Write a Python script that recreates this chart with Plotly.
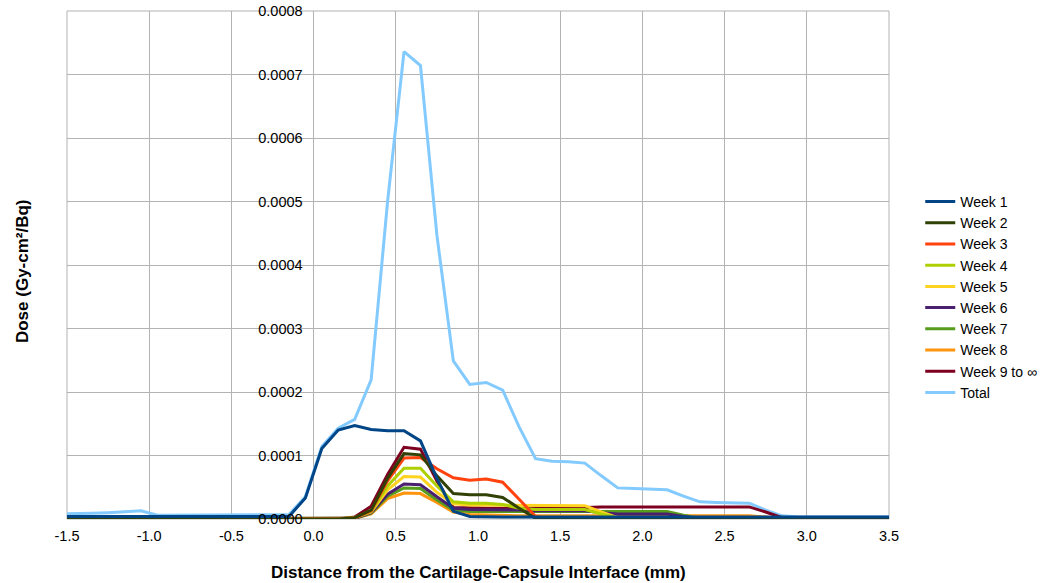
import plotly.graph_objects as go

# Distance from the cartilage-capsule interface (mm), bin centres
distance_mm = [-1.55, -1.45, -1.35, -1.25, -1.15, -1.05, -0.95, -0.85, -0.75, -0.65,
               -0.55, -0.45, -0.35, -0.25, -0.15, -0.05, 0.05, 0.15, 0.25, 0.35,
               0.45, 0.55, 0.65, 0.75, 0.85, 0.95, 1.05, 1.15, 1.25, 1.35,
               1.45, 1.55, 1.65, 1.75, 1.85, 1.95, 2.05, 2.15, 2.25, 2.35,
               2.45, 2.55, 2.65, 2.75, 2.85, 2.95, 3.05, 3.15, 3.25, 3.35,
               3.45, 3.55]

# Dose per series (Gy-cm^2/Bq)
week_1 = [4e-6, 4e-6, 4e-6, 4e-6, 4e-6, 4e-6, 4e-6, 4e-6, 4e-6, 4e-6,
          4e-6, 4e-6, 4e-6, 4e-6, 4e-6, 33e-6, 111e-6, 140e-6, 147e-6, 141e-6,
          139e-6, 139e-6, 123e-6, 64e-6, 12e-6, 4e-6, 3e-6, 3e-6, 3e-6, 3e-6,
          3e-6, 3e-6, 3e-6, 3e-6, 3e-6, 3e-6, 3e-6, 3e-6, 3e-6, 3e-6,
          3e-6, 3e-6, 3e-6, 3e-6, 3e-6, 3e-6, 3e-6, 3e-6, 3e-6, 3e-6,
          3e-6, 3e-6]
week_2 = [0, 0, 0, 0, 0, 0, 0, 0, 0, 0,
          0, 0, 0, 0, 0, 0, 0, 0, 2e-6, 14e-6,
          64e-6, 103e-6, 101e-6, 68e-6, 40e-6, 38e-6, 38e-6, 34e-6, 17e-6, 1e-6,
          0, 0, 0, 0, 0, 0, 0, 0, 0, 0,
          0, 0, 0, 0, 0, 0, 0, 0, 0, 0,
          0, 0]
week_3 = [0, 0, 0, 0, 0, 0, 0, 0, 0, 0,
          0, 0, 0, 0, 0, 0, 0, 0, 2e-6, 13e-6,
          60e-6, 96e-6, 97e-6, 79e-6, 65e-6, 61e-6, 63e-6, 58e-6, 31e-6, 4e-6,
          0, 0, 0, 0, 0, 0, 0, 0, 0, 0,
          0, 0, 0, 0, 0, 0, 0, 0, 0, 0,
          0, 0]
week_4 = [0, 0, 0, 0, 0, 0, 0, 0, 0, 0,
          0, 0, 0, 0, 0, 0, 0, 0, 2e-6, 12e-6,
          52e-6, 80e-6, 80e-6, 52e-6, 27e-6, 25e-6, 25e-6, 23e-6, 17e-6, 15e-6,
          15e-6, 15e-6, 15e-6, 8e-6, 2e-6, 0, 0, 0, 0, 0,
          0, 0, 0, 0, 0, 0, 0, 0, 0, 0,
          0, 0]
week_5 = [0, 0, 0, 0, 0, 0, 0, 0, 0, 0,
          0, 0, 0, 0, 0, 0, 0, 0, 2e-6, 11e-6,
          46e-6, 67e-6, 66e-6, 42e-6, 24e-6, 22e-6, 22e-6, 22e-6, 21e-6, 21e-6,
          21e-6, 21e-6, 21e-6, 11e-6, 2e-6, 0, 0, 0, 0, 0,
          0, 0, 0, 0, 0, 0, 0, 0, 0, 0,
          0, 0]
week_6 = [0, 0, 0, 0, 0, 0, 0, 0, 0, 0,
          0, 0, 0, 0, 0, 0, 0, 0, 1e-6, 10e-6,
          39e-6, 55e-6, 54e-6, 35e-6, 17e-6, 15e-6, 15e-6, 15e-6, 14e-6, 13e-6,
          13e-6, 13e-6, 13e-6, 10e-6, 8e-6, 8e-6, 8e-6, 8e-6, 4e-6, 1e-6,
          0, 0, 0, 0, 0, 0, 0, 0, 0, 0,
          0, 0]
week_7 = [0, 0, 0, 0, 0, 0, 0, 0, 0, 0,
          0, 0, 0, 0, 0, 0, 0, 0, 1e-6, 9e-6,
          36e-6, 49e-6, 48e-6, 30e-6, 14e-6, 12e-6, 12e-6, 12e-6, 12e-6, 12e-6,
          12e-6, 12e-6, 12e-6, 12e-6, 12e-6, 12e-6, 12e-6, 12e-6, 6e-6, 1e-6,
          0, 0, 0, 0, 0, 0, 0, 0, 0, 0,
          0, 0]
week_8 = [0, 0, 0, 0, 0, 0, 0, 0, 0, 0,
          0, 0, 0, 0, 0, 0, 0, 0, 1e-6, 8e-6,
          32e-6, 41e-6, 40e-6, 26e-6, 11e-6, 7e-6, 6e-6, 6e-6, 5e-6, 5e-6,
          5e-6, 5e-6, 5e-6, 5e-6, 5e-6, 5e-6, 5e-6, 5e-6, 5e-6, 5e-6,
          5e-6, 5e-6, 5e-6, 3e-6, 0, 0, 0, 0, 0, 0,
          0, 0]
week_9 = [0, 0, 0, 0, 0, 0, 0, 0, 0, 0,
          0, 0, 0, 0, 0, 0, 0, 0, 3e-6, 20e-6,
          70e-6, 113e-6, 110e-6, 60e-6, 18e-6, 17e-6, 17e-6, 17e-6, 17e-6, 17e-6,
          17e-6, 18e-6, 18e-6, 19e-6, 19e-6, 19e-6, 19e-6, 19e-6, 19e-6, 19e-6,
          19e-6, 19e-6, 19e-6, 11e-6, 2e-6, 0, 0, 0, 0, 0,
          0, 0]
total = [8e-6, 8e-6, 9e-6, 10e-6, 11e-6, 13e-6, 6e-6, 6e-6, 6e-6, 6e-6,
         6e-6, 6e-6, 6e-6, 6e-6, 7e-6, 35e-6, 114e-6, 143e-6, 157e-6, 219e-6,
         500e-6, 736e-6, 714e-6, 447e-6, 249e-6, 212e-6, 215e-6, 203e-6, 145e-6, 95e-6,
         91e-6, 90e-6, 88e-6, 68e-6, 49e-6, 48e-6, 47e-6, 46e-6, 36e-6, 27e-6,
         26e-6, 26e-6, 25e-6, 14e-6, 5e-6, 3e-6, 3e-6, 3e-6, 3e-6, 3e-6,
         3e-6, 3e-6]

series_names = ["Week 1", "Week 2", "Week 3", "Week 4", "Week 5", "Week 6",
                "Week 7", "Week 8", "Week 9 to \u221e", "Total"]
series_values = [week_1, week_2, week_3, week_4, week_5, week_6,
                 week_7, week_8, week_9, total]
series_colors = ["#004586", "#314004", "#ff420e", "#aecf00", "#ffd320",
                 "#4b1f6f", "#579d1c", "#ff950e", "#7e0021", "#83caff"]

x_tick_vals = [-1.5, -1.0, -0.5, 0.0, 0.5, 1.0, 1.5, 2.0, 2.5, 3.0, 3.5]
x_tick_text = ["-1.5", "-1.0", "-0.5", "0.0", "0.5", "1.0", "1.5", "2.0", "2.5", "3.0", "3.5"]
y_tick_vals = [0.0, 0.0001, 0.0002, 0.0003, 0.0004, 0.0005, 0.0006, 0.0007, 0.0008]
y_tick_text = ["0.0000", "0.0001", "0.0002", "0.0003", "0.0004", "0.0005",
               "0.0006", "0.0007", "0.0008"]

FONT = "Liberation Sans, Arial, sans-serif"
GRID = "#b3b3b3"
TICK_SIZE = 14.5

fig = go.Figure()
# Total underneath, Week 1 on top; legend keeps Week 1 .. Total order
for rank in reversed(range(len(series_names))):
    fig.add_trace(go.Scatter(
        x=distance_mm, y=series_values[rank], name=series_names[rank],
        mode="lines", line=dict(color=series_colors[rank], width=3),
        legendrank=rank + 1,
    ))

fig.update_layout(
    width=1045, height=583,
    margin=dict(l=67, r=156, t=11, b=64, autoexpand=False),
    paper_bgcolor="white", plot_bgcolor="white",
    font=dict(family=FONT, size=TICK_SIZE, color="#000000"),
    showlegend=True,
    legend=dict(x=1.038, xanchor="left", y=0.437, yanchor="middle",
                font=dict(family=FONT, size=14, color="#000000"),
                bgcolor="rgba(0,0,0,0)", traceorder="normal"),
    xaxis=dict(range=[-1.5, 3.5], tickvals=x_tick_vals, ticktext=x_tick_text,
               showgrid=True, gridcolor=GRID, gridwidth=1, zeroline=False,
               showline=False, ticks="", ticklabelstandoff=6,
               tickfont=dict(size=TICK_SIZE)),
    yaxis=dict(range=[0, 0.0008], tickvals=y_tick_vals, ticktext=y_tick_text,
               showgrid=True, gridcolor=GRID, gridwidth=1, zeroline=False,
               showline=False, ticks="", anchor="free", position=0.3,
               ticklabelstandoff=11, tickfont=dict(size=TICK_SIZE)),
    annotations=[
        dict(text="<b>Distance from the Cartilage-Capsule Interface (mm)</b>",
             xref="paper", yref="paper", x=0.5, y=-0.106,
             xanchor="center", yanchor="middle", showarrow=False,
             font=dict(family=FONT, size=17, color="#000000")),
        dict(text="<b>Dose (Gy-cm\u00b2/Bq)</b>",
             xref="paper", yref="paper", x=-0.0548, y=0.488,
             xanchor="center", yanchor="middle", textangle=-90, showarrow=False,
             font=dict(family=FONT, size=17, color="#000000")),
    ],
)

# Right and top frame edges are gridlines at the range limits
fig.add_shape(type="rect", xref="paper", yref="paper", x0=0, y0=0, x1=1, y1=1,
              line=dict(color=GRID, width=1), layer="below")

fig.write_html("out.html")
